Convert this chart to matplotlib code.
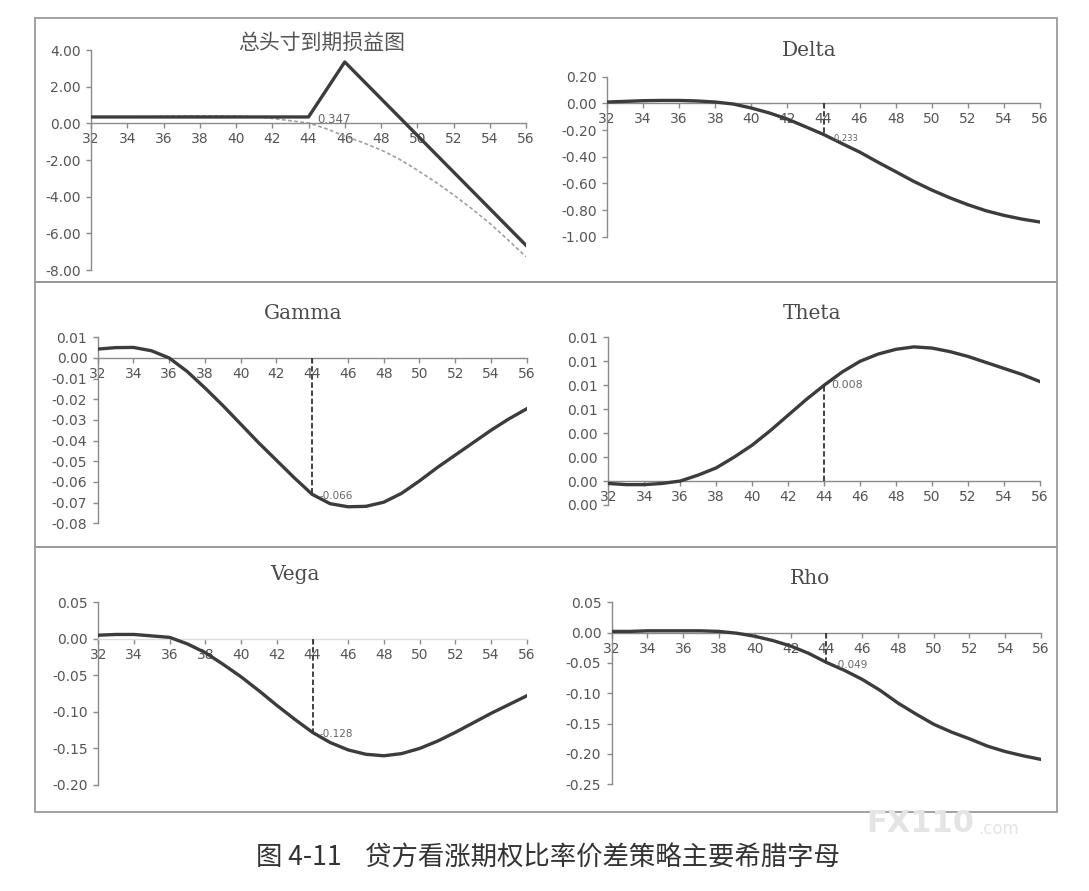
import matplotlib
matplotlib.use("Agg")
import matplotlib.pyplot as plt
from matplotlib.patches import Rectangle
from matplotlib.ticker import FuncFormatter

plt.rcParams['font.family'] = ['DejaVu Sans', 'Noto Sans CJK SC']

# ---------------- data ----------------
prices = list(range(32, 57))
xticks = list(range(32, 57, 2))

payoff_expiry = [0.347, 0.347, 0.347, 0.347, 0.347, 0.347, 0.347, 0.347, 0.347, 0.347,
                 0.347, 0.347, 0.347, 1.847, 3.347, 2.347, 1.347, 0.347, -0.653, -1.653,
                 -2.653, -3.653, -4.653, -5.653, -6.653]
payoff_now = [0.35, 0.35, 0.35, 0.36, 0.38, 0.40, 0.41, 0.41, 0.40, 0.36,
              0.27, 0.14, 0.02, -0.30, -0.70, -1.05, -1.45, -1.95, -2.55, -3.20,
              -3.90, -4.65, -5.45, -6.35, -7.28]
delta = [0.010, 0.015, 0.020, 0.022, 0.022, 0.018, 0.010, -0.005, -0.035, -0.072,
         -0.118, -0.175, -0.233, -0.300, -0.365, -0.440, -0.512, -0.585, -0.650, -0.708,
         -0.760, -0.805, -0.840, -0.868, -0.890]
gamma = [0.0043, 0.0050, 0.0051, 0.0035, 0.0000, -0.0065, -0.0145, -0.0230, -0.0320, -0.0410,
         -0.0495, -0.0580, -0.0660, -0.0705, -0.0720, -0.0718, -0.0698, -0.0655, -0.0595, -0.0530,
         -0.0470, -0.0410, -0.0350, -0.0295, -0.0246]
theta = [-0.0002, -0.0003, -0.0003, -0.0002, 0.0000, 0.0005, 0.0011, 0.0020, 0.0030, 0.0042,
         0.0055, 0.0068, 0.0080, 0.0091, 0.0100, 0.0106, 0.0110, 0.0112, 0.0111, 0.0108,
         0.0104, 0.0099, 0.0094, 0.0089, 0.0083]
vega = [0.005, 0.006, 0.006, 0.004, 0.002, -0.007, -0.019, -0.035, -0.052, -0.071,
        -0.091, -0.110, -0.128, -0.142, -0.152, -0.158, -0.160, -0.157, -0.150, -0.140,
        -0.128, -0.115, -0.102, -0.090, -0.078]
rho = [0.002, 0.002, 0.003, 0.003, 0.003, 0.003, 0.002, -0.001, -0.006, -0.013,
       -0.022, -0.034, -0.049, -0.062, -0.077, -0.095, -0.116, -0.134, -0.151, -0.164,
       -0.175, -0.187, -0.196, -0.203, -0.209]

marker_x = 44
marker_labels = {"payoff": "0.347", "delta": "-0.233", "gamma": "-0.066",
                 "theta": "0.008", "vega": "-0.128", "rho": "-0.049"}

titles = ["总头寸到期损益图", "Delta", "Gamma", "Theta", "Vega", "Rho"]
caption = "图 4-11    贷方看涨期权比率价差策略主要希腊字母"

yticks_payoff = [4, 2, 0, -2, -4, -6, -8]
yticks_delta = [0.2, 0.0, -0.2, -0.4, -0.6, -0.8, -1.0]
yticks_gamma = [0.01, 0.0, -0.01, -0.02, -0.03, -0.04, -0.05, -0.06, -0.07, -0.08]
yticks_theta = [0.012, 0.010, 0.008, 0.006, 0.004, 0.002, 0.0, -0.002]
yticks_vega = [0.05, 0.0, -0.05, -0.10, -0.15, -0.20]
yticks_rho = [0.05, 0.0, -0.05, -0.10, -0.15, -0.20, -0.25]

# ---------------- layout ----------------
W, H = 1089, 891
fig = plt.figure(figsize=(W / 100, H / 100), dpi=100)
fig.patch.set_facecolor('white')

def rect(x0, x1, ytop, ybot):
    return [x0 / W, 1 - ybot / H, (x1 - x0) / W, (ybot - ytop) / H]

LINE = '#3c3c3c'
AXC = '#8a8a8a'
TXT = '#555555'

# row frames
for (yt, yb) in [(18, 282), (282, 547), (547, 812)]:
    fig.patches.append(Rectangle((35 / W, 1 - yb / H), (1057 - 35) / W, (yb - yt) / H,
                                 transform=fig.transFigure, fill=False,
                                 edgecolor='#9a9a9a', lw=1.3))

def fmt2(v, pos):
    s = f"{v:.2f}"
    if s == "-0.00":
        s = "0.00"
    return s

def style(ax, yticks, axis_color=AXC):
    ax.set_xlim(32, 56)
    ax.set_ylim(min(yticks), max(yticks))
    ax.set_yticks(yticks)
    ax.set_xticks(xticks)
    ax.yaxis.set_major_formatter(FuncFormatter(fmt2))
    for s in ['top', 'right']:
        ax.spines[s].set_visible(False)
    ax.spines['left'].set_color(AXC)
    ax.spines['left'].set_linewidth(1.0)
    ax.spines['bottom'].set_position(('data', 0))
    ax.spines['bottom'].set_color(axis_color)
    ax.spines['bottom'].set_linewidth(1.0)
    ax.tick_params(axis='both', colors=AXC, labelcolor=TXT, labelsize=10,
                   direction='out', length=3.5, width=1.0)
    ax.tick_params(axis='x', pad=3)
    ax.tick_params(axis='y', pad=4)
    ax.set_facecolor('none')
    ax.patch.set_alpha(0)

def marker(ax, values, label, dx=5, dy=0, fs=7.5, show_line=True):
    v = values[prices.index(marker_x)]
    if show_line:
        ax.plot([marker_x, marker_x], [0, v], color='#333333', lw=1.3,
                ls=(0, (3, 1.5)), zorder=3)
    ax.annotate(label, (marker_x, v), xytext=(dx, dy), textcoords='offset points',
                fontsize=fs, color='#666666', ha='left', va='center', zorder=5)

# top-left payoff
ax1 = fig.add_axes(rect(91, 526, 50, 270))
ax1.plot(prices, payoff_now, color='#a0a0a0', lw=1.2, ls=(0, (2.2, 1.5)), zorder=2)
ax1.plot(prices, payoff_expiry, color=LINE, lw=2.4, zorder=3)
style(ax1, yticks_payoff)
marker(ax1, payoff_expiry, marker_labels["payoff"], dx=6, dy=-2, fs=8.5, show_line=False)

# Delta
ax2 = fig.add_axes(rect(607, 1040, 76.7, 236.7))
ax2.plot(prices, delta, color=LINE, lw=2.4, zorder=3)
style(ax2, yticks_delta)
marker(ax2, delta, marker_labels["delta"], dx=6, dy=-3, fs=6)

# Gamma
ax3 = fig.add_axes(rect(97.7, 526.7, 337.3, 523.3))
ax3.plot(prices, gamma, color=LINE, lw=2.4, zorder=3)
style(ax3, yticks_gamma)
marker(ax3, gamma, marker_labels["gamma"], dx=5, dy=-1, fs=7.5)

# Theta
ax4 = fig.add_axes(rect(608.3, 1040, 337.3, 505))
ax4.plot(prices, theta, color=LINE, lw=2.4, zorder=3)
style(ax4, yticks_theta)
marker(ax4, theta, marker_labels["theta"], dx=5, dy=0, fs=8)

# Vega
ax5 = fig.add_axes(rect(98.3, 526.7, 602.3, 785))
ax5.plot(prices, vega, color=LINE, lw=2.4, zorder=3)
style(ax5, yticks_vega, axis_color='#dddddd')
marker(ax5, vega, marker_labels["vega"], dx=5, dy=-1, fs=7.5)

# Rho
ax6 = fig.add_axes(rect(611.7, 1041, 602.3, 784.3))
ax6.plot(prices, rho, color=LINE, lw=2.4, zorder=3)
style(ax6, yticks_rho)
marker(ax6, rho, marker_labels["rho"], dx=6, dy=-2, fs=7.5)

# titles
title_pos = [(322, 43), (809, 50), (303, 313), (812, 313), (295, 575), (810, 578)]
for i, (t, (px, py)) in enumerate(zip(titles, title_pos)):
    if i == 0:
        fig.text(px / W, 1 - py / H, t, ha='center', va='center', fontsize=15,
                 color='#555555', family=['Noto Sans CJK SC', 'DejaVu Sans'])
    else:
        fig.text(px / W, 1 - py / H, t, ha='center', va='center', fontsize=14.5,
                 color='#4a4a4a', family=['DejaVu Serif'])

# caption
fig.text(548 / W, 1 - 858 / H, caption, ha='center', va='center', fontsize=19,
         color='#333333', family=['Noto Sans CJK SC', 'DejaVu Sans'])

# watermark
fig.text(866 / W, 1 - 823 / H, "FX110", ha='left', va='center', fontsize=22,
         fontweight='bold', color='#e4e4e4', family=['DejaVu Sans'])
fig.text(978 / W, 1 - 829 / H, ".com", ha='left', va='center', fontsize=12,
         color='#e4e4e4', family=['DejaVu Sans'])

fig.savefig("out.png", dpi=100, facecolor='white')
